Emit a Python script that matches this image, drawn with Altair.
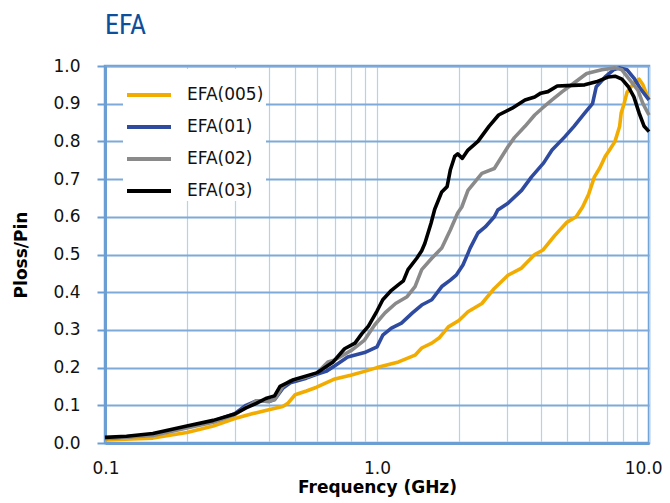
import altair as alt
import pandas as pd

series_names = ["EFA(005)", "EFA(01)", "EFA(02)", "EFA(03)"]
series_colors = ["#f2ac00", "#2f4b9f", "#8a8a8a", "#000000"]

f_005 = [0.1, 0.15, 0.2, 0.25, 0.3, 0.35, 0.4, 0.45, 0.47, 0.5, 0.55, 0.6, 0.7, 0.8, 0.9, 1.0,
         1.2, 1.38, 1.46, 1.59, 1.7, 1.83, 2.0, 2.16, 2.43, 2.7, 3.03, 3.4, 3.8, 4.08, 4.5, 5.0,
         5.4, 5.7, 6.0, 6.3, 6.6, 6.9, 7.2, 7.5, 7.8, 7.9, 8.1, 8.3, 8.8, 9.2, 9.5, 10.0]
v_005 = [0.008, 0.013, 0.028, 0.045, 0.065, 0.078, 0.088, 0.097, 0.105, 0.128, 0.138, 0.148, 0.17, 0.18, 0.19, 0.2,
         0.215, 0.233, 0.252, 0.265, 0.28, 0.308, 0.325, 0.348, 0.37, 0.41, 0.445, 0.464, 0.5, 0.512, 0.55, 0.586,
         0.6, 0.626, 0.66, 0.706, 0.73, 0.76, 0.78, 0.8, 0.84, 0.875, 0.9, 0.93, 0.955, 0.965, 0.95, 0.91]

f_01 = [0.1, 0.15, 0.2, 0.25, 0.3, 0.33, 0.36, 0.4, 0.42, 0.45, 0.48, 0.55, 0.6, 0.65, 0.7, 0.78, 0.9,
        1.0, 1.05, 1.13, 1.23, 1.35, 1.46, 1.59, 1.73, 1.86, 1.96, 2.07, 2.16, 2.2, 2.35, 2.5, 2.7, 2.78,
        3.03, 3.4, 3.7, 4.1, 4.4, 4.9, 5.3, 5.8, 6.2, 6.4, 6.9, 7.4, 7.8, 8.3, 8.8, 9.3, 10.0]
v_01 = [0.012, 0.022, 0.042, 0.058, 0.078, 0.1, 0.112, 0.11, 0.115, 0.145, 0.16, 0.172, 0.182, 0.19, 0.205, 0.228, 0.24,
        0.255, 0.286, 0.305, 0.318, 0.345, 0.366, 0.38, 0.415, 0.432, 0.446, 0.472, 0.503, 0.517, 0.557, 0.573, 0.6, 0.618,
        0.636, 0.67, 0.706, 0.743, 0.777, 0.812, 0.84, 0.875, 0.9, 0.945, 0.971, 0.99, 0.995, 0.99, 0.968, 0.94, 0.91]

f_02 = [0.1, 0.15, 0.2, 0.25, 0.3, 0.33, 0.36, 0.4, 0.42, 0.45, 0.48, 0.55, 0.6, 0.63, 0.66, 0.7, 0.81, 0.9,
        0.98, 1.07, 1.17, 1.29, 1.38, 1.46, 1.59, 1.73, 1.86, 1.98, 2.05, 2.16, 2.43, 2.7, 3.03, 3.2, 3.5,
        3.8, 4.05, 4.4, 4.8, 5.3, 5.9, 6.7, 7.5, 7.95, 8.4, 9.1, 9.5, 10.0]
v_02 = [0.012, 0.02, 0.04, 0.055, 0.075, 0.095, 0.112, 0.11, 0.115, 0.15, 0.165, 0.175, 0.185, 0.2, 0.215, 0.22, 0.247, 0.273,
        0.313, 0.345, 0.37, 0.388, 0.415, 0.46, 0.49, 0.517, 0.565, 0.61, 0.626, 0.67, 0.715, 0.728, 0.786, 0.81, 0.84,
        0.87, 0.888, 0.91, 0.932, 0.955, 0.98, 0.99, 0.995, 0.99, 0.968, 0.936, 0.9, 0.87]

f_03 = [0.1, 0.12, 0.15, 0.2, 0.25, 0.3, 0.33, 0.36, 0.39, 0.42, 0.44, 0.49, 0.6, 0.69, 0.76, 0.83, 0.88, 0.93,
        1.0, 1.05, 1.13, 1.2, 1.25, 1.3, 1.4, 1.46, 1.5, 1.58, 1.63, 1.73, 1.81, 1.86, 1.93, 1.98, 2.06, 2.16,
        2.35, 2.58, 2.8, 3.14, 3.5, 3.8, 4.0, 4.25, 4.6, 5.0, 5.8, 6.4, 7.1, 7.5, 7.95, 8.4, 8.8, 9.2, 9.6, 10.0]
v_03 = [0.015, 0.018, 0.025, 0.045, 0.06, 0.077, 0.093, 0.105, 0.118, 0.125, 0.15, 0.167, 0.186, 0.215, 0.25, 0.265, 0.29, 0.31,
        0.35, 0.38, 0.405, 0.42, 0.43, 0.46, 0.49, 0.51, 0.53, 0.583, 0.62, 0.666, 0.68, 0.724, 0.76, 0.767, 0.755, 0.777,
        0.8, 0.84, 0.87, 0.888, 0.91, 0.918, 0.928, 0.932, 0.947, 0.948, 0.95, 0.958, 0.971, 0.973, 0.965, 0.945, 0.918, 0.875, 0.84, 0.826]

y_ticks = [0.0, 0.1, 0.2, 0.3, 0.4, 0.5, 0.6, 0.7, 0.8, 0.9, 1.0]
x_grid = [0.1, 0.2, 0.3, 0.4, 0.5, 0.6, 0.7, 0.8, 0.9, 1, 2, 3, 4, 5, 6, 7, 8, 9, 10]

rows = []
for name, fs, vs in zip(series_names, [f_005, f_01, f_02, f_03], [v_005, v_01, v_02, v_03]):
    for i, (f, v) in enumerate(zip(fs, vs)):
        rows.append({"series": name, "freq": f, "value": v, "idx": i})
df = pd.DataFrame(rows)

axis_blue = "#6b9fd4"

chart = alt.Chart(df).mark_line(strokeWidth=3.6, strokeJoin="round").encode(
    x=alt.X("freq:Q",
            scale=alt.Scale(type="log", domain=[0.1, 10], nice=False),
            axis=alt.Axis(values=x_grid, title="Frequency (GHz)",
                          labelExpr="(datum.value == 0.1 || datum.value == 1 || datum.value == 10) ? format(datum.value, '.1f') : ''",
                          ticks=False, labelPadding=17, titlePadding=3,
                          labelFlush=True, labelFlushOffset=13,
                          gridColor="#b3d2ef", gridWidth=1.2)),
    y=alt.Y("value:Q",
            scale=alt.Scale(domain=[0, 1], nice=False),
            axis=alt.Axis(values=y_ticks, format=".1f", title="Ploss/Pin",
                          ticks=True, tickSize=8, tickWidth=2, tickColor=axis_blue,
                          labelPadding=17, titlePadding=22,
                          gridColor="#7ea9d8", gridWidth=1.8)),
    color=alt.Color("series:N",
                    scale=alt.Scale(domain=series_names, range=series_colors),
                    legend=alt.Legend(title=None, orient="none", legendX=18, legendY=3,
                                      fillColor="white", padding=2,
                                      symbolType="stroke", symbolSize=1936, symbolStrokeWidth=4,
                                      labelFont="DejaVu Sans", labelFontSize=17, labelColor="#111111",
                                      labelOffset=14, rowPadding=0)),
    order="idx:Q",
).properties(
    width=544, height=377,
    title=alt.TitleParams("EFA", anchor="start", frame="group", fontSize=28,
                          font="Roboto Condensed, Liberation Sans Narrow, Roboto",
                          fontWeight="normal", color="#0d4f9c", offset=17),
    autosize=alt.AutoSizeParams(type="none"),
    padding={"left": 97, "top": 58, "right": 13, "bottom": 54},
).configure_view(
    stroke=axis_blue, strokeWidth=2.5
).configure_axis(
    domainColor=axis_blue, domainWidth=3,
    labelFont="DejaVu Sans", labelFontSize=17, labelColor="#111111",
    titleFont="DejaVu Sans", titleFontSize=17, titleFontWeight="bold", titleColor="#000000",
)

chart.save("out.html", embed_options={"renderer": "svg", "actions": False})
